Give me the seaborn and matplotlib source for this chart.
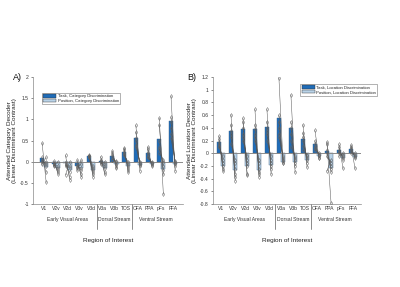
import seaborn as sns
import pandas as pd
import matplotlib.pyplot as plt
import numpy as np
from matplotlib.patches import Patch
import matplotlib.transforms as mtransforms

rois = ["V1", "V2v", "V2d", "V3v", "V3d", "V3a", "V3b", "TOS", "OFA", "PPA", "pFs", "FFA"]
groups = ["Early Visual Areas", "Dorsal Stream", "Ventral Stream"]
group_centers = [2, 6, 9.5]

# Panel A - category decoder (bar means)
cat_task = [0.09, -0.05, -0.04, -0.10, 0.13, 0.02, 0.13, 0.23, 0.56, 0.21, 0.54, 0.96]
cat_pos = [-0.13, -0.15, -0.20, -0.15, -0.20, -0.15, -0.05, -0.10, -0.07, -0.05, -0.17, -0.05]

# Panel A - single subjects (task / position)
cat_task_subj = [
    [0.44, 0.10, 0.05, 0.02, -0.02, -0.05],
    [0.02, -0.02, -0.05, -0.07, -0.08, -0.10],
    [0.15, 0.00, -0.05, -0.08, -0.10, -0.31],
    [0.04, -0.05, -0.10, -0.12, -0.15, -0.20],
    [0.13, 0.16, 0.14, 0.10, 0.12, 0.13],
    [0.12, 0.05, 0.02, 0.00, -0.03, -0.05],
    [0.25, 0.20, 0.15, 0.10, 0.05, 0.05],
    [0.32, 0.30, 0.25, 0.20, 0.18, 0.15],
    [0.86, 0.70, 0.55, 0.50, 0.40, 0.35],
    [0.35, 0.30, 0.22, 0.18, 0.12, 0.10],
    [1.03, 0.86, 0.50, 0.35, 0.30, 0.20],
    [1.55, 1.05, 0.95, 0.80, 0.65, 0.55],
]
cat_pos_subj = [
    [-0.49, -0.25, -0.10, -0.05, 0.00, 0.10],
    [-0.28, -0.25, -0.20, -0.15, -0.10, 0.00],
    [-0.42, -0.35, -0.25, -0.15, -0.10, 0.00],
    [-0.36, -0.30, -0.20, -0.15, -0.05, 0.04],
    [-0.35, -0.30, -0.25, -0.20, -0.15, -0.10],
    [-0.30, -0.25, -0.15, -0.10, -0.05, 0.00],
    [-0.15, -0.12, -0.08, -0.05, 0.00, 0.02],
    [-0.25, -0.20, -0.15, -0.10, -0.05, 0.00],
    [-0.22, -0.10, -0.08, -0.05, -0.02, 0.00],
    [-0.10, -0.08, -0.06, -0.04, -0.02, 0.00],
    [-0.77, -0.30, -0.20, -0.10, 0.00, 0.05],
    [-0.22, -0.10, -0.05, -0.02, 0.00, 0.02],
]

# Panel B - location decoder (bar means)
loc_task = [0.18, 0.35, 0.38, 0.38, 0.41, 0.55, 0.40, 0.23, 0.15, 0.03, 0.05, 0.07]
loc_pos = [-0.20, -0.27, -0.20, -0.26, -0.19, -0.13, -0.13, -0.10, -0.04, -0.23, -0.07, -0.06]

loc_task_subj = [
    [0.27, 0.22, 0.18, 0.15, 0.12, 0.10],
    [0.61, 0.45, 0.35, 0.30, 0.25, 0.15],
    [0.55, 0.50, 0.40, 0.30, 0.25, 0.20],
    [0.69, 0.45, 0.38, 0.30, 0.25, 0.20],
    [0.69, 0.50, 0.40, 0.35, 0.30, 0.20],
    [1.19, 0.60, 0.50, 0.40, 0.30, 0.25],
    [0.92, 0.50, 0.40, 0.30, 0.20, 0.10],
    [0.45, 0.32, 0.25, 0.20, 0.12, 0.05],
    [0.36, 0.20, 0.15, 0.10, 0.08, 0.05],
    [0.18, 0.15, 0.05, 0.00, -0.05, -0.28],
    [0.14, 0.10, 0.05, 0.02, 0.00, -0.05],
    [0.13, 0.10, 0.08, 0.05, 0.03, 0.00],
]
loc_pos_subj = [
    [-0.28, -0.25, -0.20, -0.15, -0.10, -0.05],
    [-0.43, -0.38, -0.33, -0.25, -0.15, -0.10],
    [-0.35, -0.32, -0.20, -0.15, -0.10, -0.05],
    [-0.37, -0.33, -0.30, -0.25, -0.15, -0.10],
    [-0.33, -0.25, -0.20, -0.15, -0.10, -0.05],
    [-0.16, -0.15, -0.12, -0.10, -0.08, -0.05],
    [-0.30, -0.20, -0.15, -0.10, -0.08, -0.05],
    [-0.22, -0.15, -0.10, -0.08, -0.05, -0.02],
    [-0.08, -0.07, -0.05, -0.03, -0.02, 0.00],
    [-0.79, -0.30, -0.25, -0.20, -0.15, -0.10],
    [-0.24, -0.10, -0.08, -0.05, -0.03, 0.00],
    [-0.24, -0.08, -0.06, -0.05, -0.03, 0.00],
]

dark = "#1f6cb8"
light = "#b9d3e8"

sns.set_theme(style="white")
plt.rcParams["font.family"] = ["Liberation Sans", "DejaVu Sans"]

fig = plt.figure(figsize=(4.0, 2.87), dpi=100)
axA = fig.add_axes([0.0825, 0.289, 0.375, 0.4425])
axB = fig.add_axes([0.5325, 0.289, 0.37, 0.4425])


def draw_panel(ax, task, pos, task_subj, pos_subj, labels, ylim, yticks, xlim, ylabel, leg_anchor):
    df = pd.DataFrame({
        "roi": rois * 2,
        "value": task + pos,
        "cond": [labels[0]] * len(rois) + [labels[1]] * len(rois),
    })
    sns.barplot(data=df, x="roi", y="value", hue="cond", order=rois, hue_order=labels,
                palette=[dark, light], width=0.7, edgecolor="#3d5f80", linewidth=0.3,
                saturation=1, errorbar=None, legend=False, ax=ax)
    ax.axhline(0, color="#8a8a8a", lw=0.7, zorder=1)
    off = 0.175
    for i in range(len(rois)):
        for t, p in zip(task_subj[i], pos_subj[i]):
            ax.plot([i - off, i + off], [t, p], color="#555555", lw=0.35, zorder=3,
                    marker="d", ms=2.0, mfc="none", mec="#666666", mew=0.35)
    ax.set_ylim(*ylim)
    ax.set_xlim(*xlim)
    ax.set_yticks(yticks)
    ax.set_yticklabels([f"{v:g}" for v in yticks])
    ax.tick_params(axis="both", labelsize=3.6, length=1.5, width=0.4, pad=1.5,
                   colors="#333333", left=True, bottom=True)
    ax.tick_params(axis="x", length=0)
    for s in ["top", "right"]:
        ax.spines[s].set_visible(False)
    for s in ["left", "bottom"]:
        ax.spines[s].set_color("#888888")
        ax.spines[s].set_linewidth(0.5)
    ax.set_xlabel("")
    ax.set_ylabel(ylabel, fontsize=4.6, color="#222222", labelpad=2, linespacing=1.1)

    trans = mtransforms.blended_transform_factory(ax.transData, ax.transAxes)
    for xs in [4.5, 7.5]:
        ax.plot([xs, xs], [0, -0.2], color="#777777", lw=0.6, transform=trans, clip_on=False)
    for g, c in zip(groups, group_centers):
        ax.text(c, -0.118, g, transform=trans, ha="center", va="center", fontsize=3.6, color="#333333")
    ax.text(0.5, -0.285, "Region of Interest", transform=ax.transAxes, ha="center", va="center",
            fontsize=4.6, color="#222222")

    handles = [Patch(facecolor=dark, edgecolor="#333333", lw=0.3, label=labels[0]),
               Patch(facecolor=light, edgecolor="#333333", lw=0.3, label=labels[1])]
    leg = ax.legend(handles=handles, loc="upper left", bbox_to_anchor=leg_anchor, fontsize=3.1,
                    frameon=True, fancybox=False, borderpad=0.3, labelspacing=0.15,
                    handlelength=3.0, handleheight=0.8, handletextpad=0.4, borderaxespad=0)
    leg.get_frame().set_edgecolor("#555555")
    leg.get_frame().set_linewidth(0.4)


draw_panel(axA, cat_task, cat_pos, cat_task_subj, cat_pos_subj,
           ["Task, Category Discrimination", "Position, Category Discrimination"],
           (-1, 2), [-1, -0.5, 0, 0.5, 1, 1.5, 2], (-0.95, 11.85),
           "Attended Category Decoder\n(Linear Discriminant Contrast)", (0.06, 0.875))
draw_panel(axB, loc_task, loc_pos, loc_task_subj, loc_pos_subj,
           ["Task, Location Discrimination", "Position, Location Discrimination"],
           (-0.8, 1.2), [-0.8, -0.6, -0.4, -0.2, 0, 0.2, 0.4, 0.6, 0.8, 1, 1.2], (-0.67, 11.67),
           "Attended Location Decoder\n(Linear Discriminant Contrast)", (0.59, 0.945))

fig.text(17 / 400, 1 - 77 / 287, "A)", fontsize=6.5, ha="center", va="center", color="#111111")
fig.text(192 / 400, 1 - 77 / 287, "B)", fontsize=6.5, ha="center", va="center", color="#111111")

fig.savefig("out.png", dpi=100)
